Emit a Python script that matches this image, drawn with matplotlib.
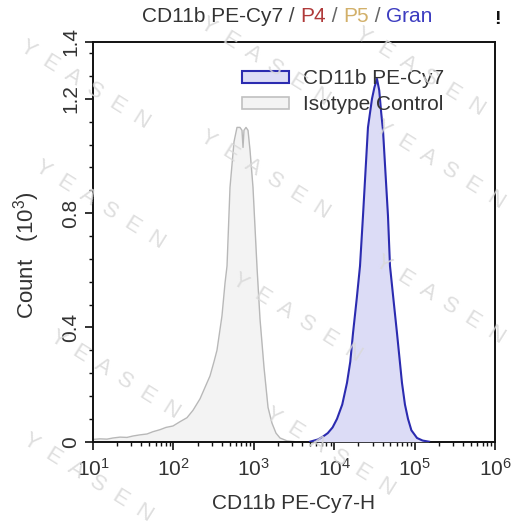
import numpy as np
import matplotlib
matplotlib.use("Agg")
import matplotlib.pyplot as plt
from matplotlib.patches import Patch
from matplotlib.ticker import LogLocator, FixedLocator, NullFormatter
from matplotlib.offsetbox import TextArea, HPacker, AnchoredOffsetbox

# ---------------- data ----------------
iso_exp = [1.00, 1.087, 1.174, 1.249, 1.336, 1.423, 1.498, 1.585, 1.672, 1.746,
           1.833, 1.908, 1.995, 2.082, 2.169, 2.244, 2.331, 2.393, 2.455, 2.505,
           2.542, 2.604, 2.642, 2.667, 2.704, 2.754, 2.791, 2.828, 2.853, 2.866,
           2.878, 2.903, 2.928, 2.953, 2.990, 3.040, 3.077, 3.127, 3.177, 3.226,
           3.276, 3.326, 3.413, 3.512]
iso_cnt = [0.008, 0.010, 0.009, 0.013, 0.016, 0.015, 0.020, 0.024, 0.027, 0.035,
           0.042, 0.050, 0.055, 0.070, 0.084, 0.110, 0.150, 0.190, 0.230, 0.280,
           0.320, 0.440, 0.555, 0.615, 0.890, 1.050, 1.100, 1.100, 1.090, 1.030,
           1.090, 1.100, 1.090, 1.020, 0.890, 0.610, 0.430, 0.260, 0.120, 0.065,
           0.030, 0.013, 0.003, 0.000]

cd_exp = [3.70, 3.75, 3.80, 3.861, 3.92, 3.98, 4.035, 4.10, 4.159, 4.20,
          4.234, 4.28, 4.321, 4.358, 4.39, 4.42, 4.47, 4.50, 4.532, 4.56,
          4.585, 4.607, 4.64, 4.669, 4.694, 4.74, 4.781, 4.843, 4.88, 4.918,
          4.96, 5.03, 5.10, 5.18]
cd_cnt = [0.000, 0.004, 0.008, 0.018, 0.030, 0.050, 0.080, 0.130, 0.206, 0.280,
          0.380, 0.500, 0.615, 0.790, 0.950, 1.100, 1.200, 1.240, 1.270, 1.230,
          1.150, 1.090, 0.930, 0.790, 0.615, 0.490, 0.380, 0.206, 0.130, 0.080,
          0.040, 0.013, 0.004, 0.000]

series_labels = ["CD11b PE-Cy7", "Isotype Control"]
y_major = [0, 0.4, 0.8, 1.2, 1.4]
y_major_labels = ["0", "0.4", "0.8", "1.2", "1.4"]
title_parts = ["CD11b PE-Cy7", " / ", "P4", " / ", "P5", " / ", "Gran"]
title_colors = ["#333333", "#444444", "#b03a3a", "#666666", "#d2b06a", "#666666", "#3c3cc0"]
watermark = "Y  E  A  S  E  N"

# ---------------- style ----------------
FONT = ["Liberation Sans", "DejaVu Sans"]
plt.rcParams["font.family"] = FONT
plt.rcParams["mathtext.fontset"] = "custom"
plt.rcParams["mathtext.rm"] = "Liberation Sans"
plt.rcParams["mathtext.it"] = "Liberation Sans:italic"
plt.rcParams["mathtext.default"] = "regular"
TXT = "#333333"
FS = 15

W, H = 519, 532
fig = plt.figure(figsize=(W / 100, H / 100), dpi=100)
fig.patch.set_facecolor("white")
ax = fig.add_axes([93 / W, 1 - 441.7 / H, 402 / W, 400 / H])

iso_x = 10 ** np.array(iso_exp)
cd_x = 10 ** np.array(cd_exp)

ax.fill_between(iso_x, iso_cnt, 0, color="#f3f3f3", lw=0, zorder=1)
ax.plot(iso_x, iso_cnt, color="#b8b8b8", lw=1.0, zorder=2)
ax.fill_between(cd_x, cd_cnt, 0, color="#dcdcf6", lw=0, zorder=3)
ax.plot(cd_x, cd_cnt, color="#2b2bb0", lw=1.5, zorder=4)

ax.set_xscale("log")
ax.set_xlim(10, 1e6)
ax.set_ylim(0, 1.4)
ax.xaxis.set_major_locator(LogLocator(base=10, numticks=10))
ax.xaxis.set_minor_locator(LogLocator(base=10, subs=np.arange(2, 10), numticks=10))
ax.xaxis.set_minor_formatter(NullFormatter())
ax.set_yticks(y_major)
ax.set_yticklabels(y_major_labels)
ax.yaxis.set_minor_locator(FixedLocator(np.round(np.arange(0.08, 1.4, 0.08), 2)))

for sp in ax.spines.values():
    sp.set_linewidth(1.4)
    sp.set_color("#111111")
ax.tick_params(which="major", length=6, width=1.2, color="#111111",
               labelsize=FS, labelcolor=TXT, pad=3)
ax.tick_params(axis="x", which="major", pad=6)
ax.tick_params(which="minor", length=3, width=1.0, color="#111111")
plt.setp(ax.get_yticklabels(), rotation=90, va="center")

ax.set_xlabel("CD11b PE-Cy7-H", fontsize=FS, color=TXT)
ax.set_ylabel("Count   (10$^{3}$)", fontsize=16, color=TXT)
ax.xaxis.set_label_coords(0.5, (441.7 - 494) / 400)
ax.yaxis.set_label_coords((42 - 93) / 402, (441.7 - 255) / 400)

handles = [Patch(facecolor="#dcdcf6", edgecolor="#2b2bb0", lw=1.5),
           Patch(facecolor="#f3f3f3", edgecolor="#c0c0c0", lw=1.2)]
leg = ax.legend(handles, series_labels, loc="upper left",
                bbox_to_anchor=(242 / W, 1 - 69 / H), bbox_transform=fig.transFigure,
                frameon=False, borderpad=0, borderaxespad=0, handlelength=2.25,
                handleheight=0.5, handletextpad=0.7, labelspacing=0.36, fontsize=FS)
for t in leg.get_texts():
    t.set_color(TXT)

# multi-colour title
areas = [TextArea(s, textprops=dict(color=c, fontsize=FS, family=FONT))
         for s, c in zip(title_parts, title_colors)]
pack = HPacker(children=areas, align="baseline", pad=0, sep=0)
anch = AnchoredOffsetbox(loc="center", child=pack, frameon=False, pad=0, borderpad=0,
                         bbox_to_anchor=(287 / W, 1 - 17 / H),
                         bbox_transform=fig.transFigure)
fig.add_artist(anch)
fig.text(497 / W, 1 - 19 / H, "!", fontsize=14, fontweight="bold", color="#111111",
         ha="center", va="center")

# watermarks
wm_pos = [(85, 85), (100, 205), (265, 175), (265, 62), (420, 72), (440, 165),
          (115, 375), (297, 318), (440, 300), (88, 478), (330, 452)]
for (px, py) in wm_pos:
    fig.text(px / W, 1 - py / H, watermark, fontsize=16, color="#d9d9d9", alpha=0.85,
             rotation=-32, ha="center", va="center", zorder=20,
             rotation_mode="anchor")

fig.savefig("out.png", dpi=100)
